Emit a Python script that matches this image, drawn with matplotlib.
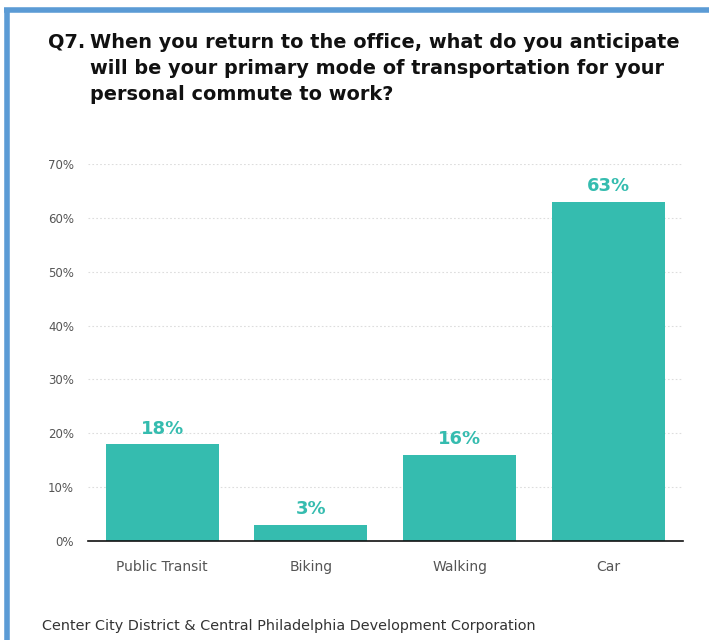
import matplotlib.pyplot as plt
import matplotlib as mpl
from matplotlib.lines import Line2D

mpl.rc('font', **{'family': 'sans-serif', 'sans-serif': ['DejaVu Sans']})

categories = ["Public Transit", "Biking", "Walking", "Car"]
shares = [18, 3, 16, 63]
y_ticks = [0, 10, 20, 30, 40, 50, 60, 70]

title_lines = ["When you return to the office, what do you anticipate",
               "will be your primary mode of transportation for your",
               "personal commute to work?"]
source = "Center City District & Central Philadelphia Development Corporation"

teal = "#35bcaf"
grey = "#555555"

fig = plt.figure(figsize=(7.09, 6.40), dpi=100)
ax = fig.add_axes([0.124, 0.1547, 0.839, 0.589])

x = range(len(categories))
ax.bar(x, shares, width=0.76, color=teal, zorder=3)
for i, v in zip(x, shares):
    ax.text(i, v + 1.2, f"{v}%", ha='center', va='bottom', fontsize=13,
            fontweight='bold', color=teal)

ax.set_xlim(-0.5, 3.5)
ax.set_ylim(0, 70)
ax.set_yticks(y_ticks)
ax.set_yticklabels([f"{t}%" for t in y_ticks], fontsize=8.5, color=grey)
ax.set_xticks(list(x))
ax.set_xticklabels(categories, fontsize=10, color=grey)
ax.tick_params(axis='x', length=0, pad=14)
ax.tick_params(axis='y', length=0, pad=10)

# dotted gridlines, solid baseline
ax.yaxis.grid(True, linestyle=(0, (1.5, 2)), color="#dddddd", linewidth=0.8, zorder=0)
for side in ['top', 'right', 'left']:
    ax.spines[side].set_visible(False)
ax.spines['bottom'].set_color("#111111")
ax.spines['bottom'].set_linewidth(1.2)
ax.spines['bottom'].set_zorder(4)

# title: "Q7." hanging, the rest indented
fig.text(0.068, 1 - 42 / 640, "Q7.", ha='left', va='center', fontsize=13.85,
         fontweight='bold', color="#111111")
for k, line in enumerate(title_lines):
    fig.text(0.127, 1 - (42 + 26 * k) / 640, line, ha='left', va='center',
             fontsize=13.85, fontweight='bold', color="#111111")
fig.text(0.059, 1 - 626 / 640, source, ha='left', va='center', fontsize=10.4,
         color="#333333")

# blue frame on top and left
fig.add_artist(Line2D([0.006, 1.0], [0.984, 0.984], color="#5b9bd5", linewidth=4,
                      solid_capstyle='butt', transform=fig.transFigure))
fig.add_artist(Line2D([0.0095, 0.0095], [0.0, 0.987], color="#5b9bd5", linewidth=4,
                      solid_capstyle='butt', transform=fig.transFigure))

fig.savefig("out.png", dpi=100)
